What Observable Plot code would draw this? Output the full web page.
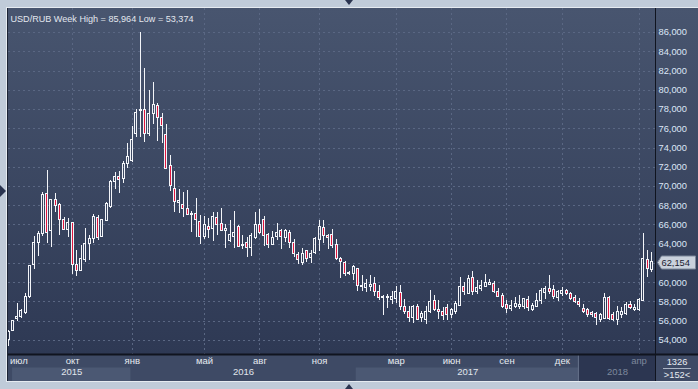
<!DOCTYPE html>
<html><head><meta charset="utf-8">
<script src="https://cdn.jsdelivr.net/npm/d3@7"></script>
<script src="https://cdn.jsdelivr.net/npm/@observablehq/plot@0.6"></script>
<style>
html,body{margin:0;padding:0;background:#c0cbd9;}
#chart{width:698px;height:389px;overflow:hidden}
</style></head><body><div id="chart"></div>
<script>
const title = "USD/RUB Week High = 85,964 Low = 53,374";
const open = [54.0,54.95,56.2,56.46,56.9,58.5,61.8,64.1,65.05,69.2,
65.4,68.6,68.1,66.5,65.53,66.16,61.83,61.24,62.4,64.0,
64.53,66.68,64.77,66.43,67.82,70.42,71.0,70.73,72.32,72.6,
75.5,77.8,77.93,75.5,77.58,78.38,77.1,75.33,72.11,69.72,
68.25,68.06,67.65,67.05,67.1,66.26,64.77,65.84,65.57,66.71,
66.09,65.33,64.36,64.77,65.81,63.85,64.15,63.56,64.6,66.02,
66.5,64.94,63.9,64.8,65.4,64.63,65.19,64.15,62.9,62.0,
63.25,62.55,63.04,64.42,65.67,64.87,64.98,63.94,62.48,62.1,
60.89,60.96,61.38,59.6,59.5,59.61,59.85,58.99,58.45,58.4,
58.19,58.3,58.95,57.5,56.98,56.29,57.53,56.29,56.11,56.98,
58.12,57.22,56.91,57.36,56.6,57.01,57.6,59.58,58.81,60.48,
59.09,59.33,59.58,59.78,59.85,58.99,58.64,57.71,57.25,57.5,
57.53,57.5,58.23,57.22,57.53,58.12,58.95,59.4,59.26,58.4,
58.88,59.16,58.88,58.4,58.05,57.29,57.12,56.84,56.77,56.18,
56.25,58.4,56.6,56.08,56.6,56.77,57.71,57.22,57.19,58.08,
62.38,61.35];
const high = [55.0,56.1,57.8,57.2,58.9,61.75,64.8,65.3,69.4,71.7,
68.7,69.3,68.2,66.8,66.7,66.3,63.4,63.9,65.6,64.9,
67.06,66.95,66.55,68.34,70.6,71.45,71.56,72.6,74.47,76.2,
78.0,85.964,82.3,79.94,80.77,78.62,77.58,76.4,73.19,71.52,
69.7,69.34,69.55,67.4,68.79,67.0,66.92,66.7,67.33,67.26,
67.75,66.0,66.43,67.37,65.9,64.87,64.7,65.12,67.26,67.58,
66.85,65.12,65.33,66.16,65.57,65.57,65.4,64.53,63.14,63.6,
63.39,63.32,64.7,66.43,66.5,65.05,65.57,64.46,62.62,62.21,
61.17,61.83,61.52,60.72,60.34,60.72,60.55,59.68,58.64,58.81,
59.09,59.58,59.68,58.3,57.5,57.6,57.71,57.01,57.5,59.16,
58.64,58.19,57.43,57.71,57.36,58.05,60.55,60.03,60.72,61.17,
60.2,60.27,60.89,60.37,60.13,59.44,58.88,58.19,58.12,58.47,
58.64,58.4,58.54,57.84,58.88,59.44,59.65,60.72,59.68,59.23,
59.5,59.33,58.99,58.64,58.33,57.74,57.29,57.05,56.88,56.77,
58.92,58.61,56.94,57.53,57.39,57.98,58.08,57.7,58.33,65.08,
63.35,63.1];
const low = [53.374,54.9,56.0,56.3,56.7,58.4,61.4,62.7,64.8,64.1,
63.7,67.3,64.9,65.4,64.7,60.9,60.7,61.2,62.1,62.35,
64.08,64.36,64.7,66.36,67.7,69.72,69.27,70.3,71.87,72.5,
75.1,75.1,74.57,75.2,76.4,74.68,74.47,71.73,69.48,67.26,
67.2,66.78,66.95,65.2,64.7,64.0,64.53,64.63,64.29,64.87,
65.33,63.6,64.18,63.55,63.66,63.49,62.62,62.73,64.53,65.05,
63.77,63.55,63.84,64.36,63.49,64.18,63.55,62.62,61.93,61.76,
62.1,62.0,62.97,63.25,64.08,63.45,63.6,62.28,60.44,60.62,
60.72,60.2,59.09,59.09,58.99,59.09,58.54,58.12,56.56,57.36,
57.71,57.84,57.15,56.67,55.84,55.77,56.04,55.87,55.7,56.8,
56.98,56.22,56.04,56.04,56.32,56.74,57.5,58.64,58.74,58.64,
58.74,59.09,59.5,59.68,58.88,58.5,57.36,56.8,57.01,57.36,
57.25,57.22,57.01,57.0,57.45,57.71,58.3,58.81,58.3,58.05,
58.54,58.7,58.12,57.84,57.46,56.77,56.42,56.35,55.56,55.9,
56.15,56.08,56.01,55.56,56.32,56.6,57.19,57.0,57.05,58.0,
60.58,61.1];
const close = [54.9,56.0,56.45,57.08,58.5,61.7,64.1,65.05,69.13,65.2,
68.6,67.96,66.5,65.53,66.23,61.83,61.24,62.45,64.0,64.5,
66.85,64.7,66.5,68.16,70.42,71.0,70.7,72.32,73.08,74.85,
77.65,78.0,75.44,77.52,78.45,77.1,76.27,71.87,70.03,68.37,
68.5,67.71,67.06,67.15,66.57,64.8,65.95,65.46,66.78,65.98,
65.4,65.57,64.94,65.19,63.73,63.95,63.66,64.87,66.02,65.22,
64.87,63.9,64.63,65.15,64.8,65.4,64.08,62.97,62.35,62.97,
62.45,62.97,64.53,65.84,64.87,64.7,63.77,62.42,62.14,60.89,
61.03,61.65,59.64,59.68,59.85,59.75,58.99,58.4,58.5,58.57,
58.47,59.09,57.5,56.91,56.29,57.5,56.15,56.8,57.01,58.02,
57.15,56.91,56.53,56.6,57.15,57.84,59.58,58.99,60.37,58.99,
59.5,59.68,59.99,59.99,58.99,58.57,57.5,57.29,57.6,57.78,
57.71,58.3,57.36,57.6,58.12,59.16,59.3,58.99,58.47,58.99,
59.16,58.88,58.26,58.02,57.64,57.01,56.6,56.6,56.32,56.6,
58.43,56.25,56.18,56.94,57.01,57.71,57.39,57.39,58.22,62.45,
61.44,62.154];
const monthLabels = ["июл","окт","янв","май","авг","ноя","мар","июн","сен","дек","апр"];
const monthIndex = [2.4,15,29,46,59,73,91,104,117,130,148];
const yearLabels = ["2015","2016","2017","2018"];
const yearStart = [0.9,28.7,81.6,134];
const yearEnd = [28.7,81.6,134,151.87];
const priceTicks = d3.range(54, 87, 2);
const infoTop = "1326", infoBottom = ">152<";

const bars = open.map((o, i) => ({i, o, h: high[i], l: low[i], c: close[i], up: close[i] >= o}));
const months = monthLabels.map((label, k) => ({label, i: monthIndex[k], future: k === monthLabels.length - 1}));
const years = yearLabels.map((label, k) => ({label, start: yearStart[k], end: yearEnd[k], k}));
const lastPrice = close[close.length - 1];
const fmt = v => v.toFixed(3).replace(".", ",");
const FONT = "Liberation Sans, Arial, sans-serif";
const W = 698, H = 389, ML = 8, MR = 43, MT = 8, MB = 35;
// the tick label hidden under the last-price tag is not drawn
const shownTicks = priceTicks.filter(t => Math.abs(t - lastPrice) > 0.8);

function backdrop(index, {x}, values, dim) {
  const g = d3.create("svg:g");
  const lg = g.append("defs").append("linearGradient").attr("id", "bgGrad")
    .attr("x1", 0).attr("y1", 0).attr("x2", 0).attr("y2", 1);
  lg.append("stop").attr("offset", "0%").attr("stop-color", "#48556f");
  lg.append("stop").attr("offset", "100%").attr("stop-color", "#2e3954");
  const bottom = dim.height - dim.marginBottom, right = dim.width - dim.marginRight;
  g.append("rect").attr("x", dim.marginLeft).attr("y", dim.marginTop)
    .attr("width", dim.width - dim.marginLeft).attr("height", bottom - dim.marginTop).attr("fill", "url(#bgGrad)");
  g.append("rect").attr("x", dim.marginLeft).attr("y", bottom).attr("width", dim.width - dim.marginLeft)
    .attr("height", 27).attr("fill", "#3e4a65");
  years.forEach(y => {
    if (y.k === 0 || y.k === 2) {
      g.append("rect").attr("x", x(y.start)).attr("y", bottom + 13.5).attr("width", x(y.end) - x(y.start))
        .attr("height", 13.5).attr("fill", "#4b5873");
    } else if (y.k === 3) {
      g.append("rect").attr("x", x(y.start)).attr("y", bottom + 1).attr("width", right - x(y.start))
        .attr("height", 26).attr("fill", "#2c3651");
      g.append("line").attr("x1", x(y.start) - 0.5).attr("x2", x(y.start) - 0.5)
        .attr("y1", bottom + 1).attr("y2", bottom + 27).attr("stroke", "#65718a");
    }
  });
  return g.node();
}

function foreground(index, {x, y}, values, dim) {
  const g = d3.create("svg:g").attr("text-anchor", "start");
  const bottom = dim.height - dim.marginBottom, right = dim.width - dim.marginRight;
  g.append("line").attr("x1", dim.marginLeft).attr("x2", dim.width).attr("y1", bottom + 0.5).attr("y2", bottom + 0.5)
    .attr("stroke", "#10141f").attr("stroke-width", 2);
  g.append("line").attr("x1", right + 0.5).attr("x2", right + 0.5).attr("y1", dim.marginTop).attr("y2", bottom + 27)
    .attr("stroke", "#10141f");
  g.append("line").attr("x1", dim.marginLeft - 0.5).attr("x2", dim.marginLeft - 0.5).attr("y1", dim.marginTop).attr("y2", bottom + 27)
    .attr("stroke", "#1c2334");
  g.append("line").attr("x1", dim.marginLeft - 1.5).attr("x2", dim.marginLeft - 1.5).attr("y1", dim.marginTop - 1).attr("y2", bottom + 28)
    .attr("stroke", "#e6ebf1");
  g.append("line").attr("x1", dim.marginLeft - 1.5).attr("x2", dim.width).attr("y1", bottom + 27.5).attr("y2", bottom + 27.5)
    .attr("stroke", "#e6ebf1");
  g.append("line").attr("x1", dim.marginLeft - 1.5).attr("x2", dim.width).attr("y1", dim.marginTop - 0.5).attr("y2", dim.marginTop - 0.5)
    .attr("stroke", "#e6ebf1");
  const cx = dim.width / 2;
  g.append("path").attr("d", `M${cx - 4},0L${cx + 4},0L${cx},5Z`).attr("fill", "#2a3450");
  g.append("path").attr("d", `M${cx - 4},${dim.height}L${cx + 4},${dim.height}L${cx},${dim.height - 5}Z`).attr("fill", "#2a3450");
  g.append("path").attr("d", `M0,185L0,197L6,191Z`).attr("fill", "#2a3450");
  const ix = (right + dim.width) / 2 + 0.5;
  g.append("text").attr("x", ix).attr("y", bottom + 8).attr("dy", "0.35em").attr("text-anchor", "middle")
    .attr("fill", "#e8ecf2").attr("font-size", 9.3).attr("font-family", FONT).text(infoTop);
  g.append("line").attr("x1", right + 8).attr("x2", dim.width - 7).attr("y1", bottom + 14.5).attr("y2", bottom + 14.5)
    .attr("stroke", "#aab4c4");
  g.append("text").attr("x", ix).attr("y", bottom + 20.5).attr("dy", "0.35em").attr("text-anchor", "middle")
    .attr("fill", "#e8ecf2").attr("font-size", 9.3).attr("font-family", FONT).text(infoBottom);
  const py = Math.round(y(lastPrice)) + 0.5;
  const lx = right + 2.5;
  g.append("path").attr("d", `M${lx},${py}L${lx + 4},${py - 6.5}L${dim.width - 2.5},${py - 6.5}L${dim.width - 2.5},${py + 6.5}L${lx + 4},${py + 6.5}Z`)
    .attr("fill", "#c9d1dc").attr("stroke", "#7d889a");
  g.append("text").attr("x", lx + 4).attr("y", py).attr("dy", "0.35em").attr("text-anchor", "start").attr("fill", "#1b2130")
    .attr("font-size", 9.3).attr("font-family", FONT).text(fmt(lastPrice));
  return g.node();
}

const ext = b => Math.max(b.o, b.c), bot = b => Math.min(b.o, b.c);
const WHITE = "#f3f5f9", RED = "#e0163e", GRID = "#5a6783";

const chart = Plot.plot({
  width: W, height: H,
  marginLeft: ML, marginRight: MR, marginTop: MT, marginBottom: MB,
  style: {background: "#c0cbd9", fontFamily: FONT},
  x: {type: "linear", domain: [-0.047, 151.87], axis: null},
  y: {domain: [52.545, 88.494], axis: null},
  marks: [
    backdrop,
    Plot.ruleY(priceTicks, {stroke: GRID, strokeDasharray: "2,3", shapeRendering: "crispEdges"}),
    Plot.ruleX(months.slice(1), {x: "i", stroke: GRID, strokeDasharray: "2,3", shapeRendering: "crispEdges"}),
    Plot.ruleX(bars, {x: "i", y1: "h", y2: ext, stroke: WHITE, shapeRendering: "crispEdges"}),
    Plot.ruleX(bars, {x: "i", y1: bot, y2: "l", stroke: WHITE, shapeRendering: "crispEdges"}),
    Plot.rect(bars.filter(b => b.up), {x1: b => b.i - 0.235, x2: b => b.i + 0.235, y1: "o", y2: "c",
      fill: "none", stroke: WHITE, shapeRendering: "crispEdges"}),
    Plot.rect(bars.filter(b => !b.up), {x1: b => b.i - 0.235, x2: b => b.i + 0.235, y1: "o", y2: "c",
      fill: RED, stroke: WHITE, shapeRendering: "crispEdges"}),
    Plot.text(shownTicks, {y: d => d, text: fmt, frameAnchor: "right", dx: 3, textAnchor: "start",
      fill: "#dce6f6", fontSize: 9.3, fontFamily: FONT}),
    Plot.text([title], {frameAnchor: "top-left", dx: 2, dy: 6.5, textAnchor: "start",
      fill: "#e3e7ee", fontSize: 9.3, fontFamily: FONT}),
    Plot.text(months, {x: "i", text: "label", frameAnchor: "bottom", dy: 9,
      fill: d => d.future ? "#7d889c" : "#e6eaf0", fontSize: 9.5, fontFamily: FONT}),
    Plot.text(years, {x: d => (d.start + d.end) / 2, text: "label", frameAnchor: "bottom", dy: 20,
      fill: d => d.k === 3 ? "#7d889c" : "#e0e5ec", fontSize: 9.5, fontFamily: FONT}),
    foreground
  ]
});
d3.select(chart).selectAll("text").each(function () {
  if (this.textContent === title) d3.select(this).attr("textLength", 183).attr("lengthAdjust", "spacingAndGlyphs");
});
document.getElementById("chart").appendChild(chart);
</script></body></html>
